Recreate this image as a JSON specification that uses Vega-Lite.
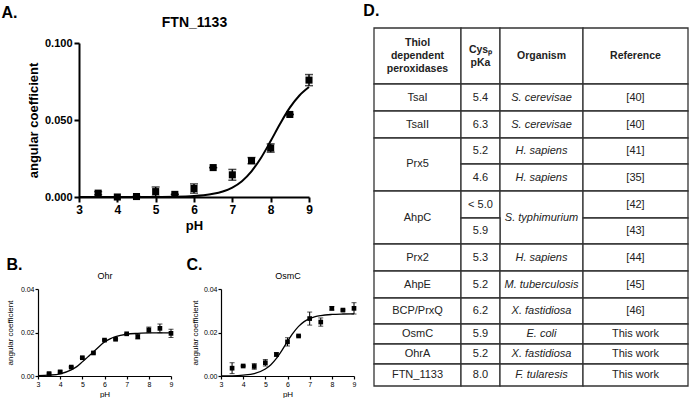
{
  "$schema": "https://vega.github.io/schema/vega-lite/v6.json",
  "padding": {"left": 1, "top": 3, "right": 0, "bottom": 0},
  "background": "white",
  "config": {
    "view": {"stroke": null},
    "font": "Liberation Sans",
    "axis": {"grid": false, "domainColor": "black", "tickColor": "black", "labelColor": "black", "titleColor": "black", "labelFont": "Liberation Sans", "titleFont": "Liberation Sans", "labelFlush": false},
    "title": {"font": "Liberation Sans", "fontWeight": "bold", "fontSize": 16, "anchor": "start", "frame": "bounds", "color": "black"}
  },
  "datasets": {
    "a_pts": [
      {"ph": 3.5, "v": 0.0025, "e": 0.001},
      {"ph": 4, "v": 0.0, "e": 0},
      {"ph": 4.5, "v": 0.0003, "e": 0},
      {"ph": 5, "v": 0.0035, "e": 0.003},
      {"ph": 5.5, "v": 0.0017, "e": 0},
      {"ph": 6, "v": 0.0055, "e": 0.003},
      {"ph": 6.5, "v": 0.0191, "e": 0},
      {"ph": 7, "v": 0.0144, "e": 0.0035},
      {"ph": 7.5, "v": 0.0236, "e": 0.002},
      {"ph": 8, "v": 0.0318, "e": 0.0027},
      {"ph": 8.5, "v": 0.0536, "e": 0},
      {"ph": 9, "v": 0.0759, "e": 0.0036}
    ],
    "a_fit": [
      {"ph": 3, "v": 0}, {"ph": 4, "v": 0.00001}, {"ph": 5, "v": 0.00007}, {"ph": 5.5, "v": 0.0002},
      {"ph": 6, "v": 0.00066}, {"ph": 6.25, "v": 0.00117}, {"ph": 6.5, "v": 0.00205}, {"ph": 6.75, "v": 0.00357},
      {"ph": 7, "v": 0.00614}, {"ph": 7.25, "v": 0.0103}, {"ph": 7.5, "v": 0.0167}, {"ph": 7.75, "v": 0.0255},
      {"ph": 8, "v": 0.0363}, {"ph": 8.25, "v": 0.0477}, {"ph": 8.5, "v": 0.058}, {"ph": 8.75, "v": 0.0659}, {"ph": 9, "v": 0.0714}
    ],
    "b_pts": [
      {"ph": 3.5, "v": 0.0011, "e": 0.0003},
      {"ph": 4, "v": 0.0019, "e": 0.0004},
      {"ph": 4.5, "v": 0.0041, "e": 0.0003},
      {"ph": 5, "v": 0.0084, "e": 0.0003},
      {"ph": 5.5, "v": 0.0106, "e": 0.0004},
      {"ph": 6, "v": 0.0165, "e": 0.0003},
      {"ph": 6.5, "v": 0.0169, "e": 0.0003},
      {"ph": 7, "v": 0.0194, "e": 0.0002},
      {"ph": 7.5, "v": 0.0181, "e": 0.0011},
      {"ph": 8, "v": 0.0212, "e": 0.0013},
      {"ph": 8.5, "v": 0.0219, "e": 0.002},
      {"ph": 9, "v": 0.0196, "e": 0.0019}
    ],
    "b_fit": [
      {"ph": 3, "v": 0.0002}, {"ph": 3.5, "v": 0.0004}, {"ph": 4, "v": 0.001}, {"ph": 4.5, "v": 0.0028},
      {"ph": 4.75, "v": 0.0043}, {"ph": 5, "v": 0.0065}, {"ph": 5.25, "v": 0.0088}, {"ph": 5.5, "v": 0.0111},
      {"ph": 5.75, "v": 0.0135}, {"ph": 6, "v": 0.0156}, {"ph": 6.25, "v": 0.0171}, {"ph": 6.5, "v": 0.0181},
      {"ph": 7, "v": 0.0192}, {"ph": 7.5, "v": 0.0196}, {"ph": 8, "v": 0.0198}, {"ph": 9, "v": 0.0198}
    ],
    "c_pts": [
      {"ph": 3.5, "v": 0.0036, "e": 0.0025},
      {"ph": 4, "v": 0.0046, "e": 0.0003},
      {"ph": 4.5, "v": 0.0044, "e": 0.0013},
      {"ph": 5, "v": 0.0061, "e": 0.0015},
      {"ph": 5.5, "v": 0.0099, "e": 0.0008},
      {"ph": 6, "v": 0.0157, "e": 0.0019},
      {"ph": 6.5, "v": 0.0184, "e": 0.0003},
      {"ph": 7, "v": 0.0264, "e": 0.003},
      {"ph": 7.5, "v": 0.0248, "e": 0.0019},
      {"ph": 8, "v": 0.0311, "e": 0.0008},
      {"ph": 8.5, "v": 0.0303, "e": 0.0004},
      {"ph": 9, "v": 0.0311, "e": 0.0026}
    ],
    "c_fit": [
      {"ph": 3, "v": 0.00003}, {"ph": 3.5, "v": 0.0001}, {"ph": 4, "v": 0.0004}, {"ph": 4.5, "v": 0.0011},
      {"ph": 5, "v": 0.0032}, {"ph": 5.25, "v": 0.0052}, {"ph": 5.5, "v": 0.0081}, {"ph": 5.75, "v": 0.0118},
      {"ph": 6, "v": 0.0159}, {"ph": 6.25, "v": 0.0197}, {"ph": 6.5, "v": 0.0228}, {"ph": 6.75, "v": 0.025},
      {"ph": 7, "v": 0.0264}, {"ph": 7.25, "v": 0.0273}, {"ph": 7.5, "v": 0.0278}, {"ph": 8, "v": 0.0283},
      {"ph": 8.5, "v": 0.0285}, {"ph": 9, "v": 0.0286}
    ],
    "tbl": [
      {"c0": 0, "c1": 1, "r0": 0, "r1": 1, "label": "Thiol\ndependent\nperoxidases"},
      {"c0": 1, "c1": 2, "r0": 0, "r1": 1, "label": "Cysₚ\npKa"},
      {"c0": 2, "c1": 3, "r0": 0, "r1": 1, "label": "Organism"},
      {"c0": 3, "c1": 4, "r0": 0, "r1": 1, "label": "Reference"},
      {"c0": 0, "c1": 1, "r0": 1, "r1": 2, "label": "TsaI"},
      {"c0": 1, "c1": 2, "r0": 1, "r1": 2, "label": "5.4"},
      {"c0": 2, "c1": 3, "r0": 1, "r1": 2, "label": "S. cerevisae"},
      {"c0": 3, "c1": 4, "r0": 1, "r1": 2, "label": "[40]"},
      {"c0": 0, "c1": 1, "r0": 2, "r1": 3, "label": "TsaII"},
      {"c0": 1, "c1": 2, "r0": 2, "r1": 3, "label": "6.3"},
      {"c0": 2, "c1": 3, "r0": 2, "r1": 3, "label": "S. cerevisae"},
      {"c0": 3, "c1": 4, "r0": 2, "r1": 3, "label": "[40]"},
      {"c0": 0, "c1": 1, "r0": 3, "r1": 5, "label": "Prx5"},
      {"c0": 1, "c1": 2, "r0": 3, "r1": 4, "label": "5.2"},
      {"c0": 2, "c1": 3, "r0": 3, "r1": 4, "label": "H. sapiens"},
      {"c0": 3, "c1": 4, "r0": 3, "r1": 4, "label": "[41]"},
      {"c0": 1, "c1": 2, "r0": 4, "r1": 5, "label": "4.6"},
      {"c0": 2, "c1": 3, "r0": 4, "r1": 5, "label": "H. sapiens"},
      {"c0": 3, "c1": 4, "r0": 4, "r1": 5, "label": "[35]"},
      {"c0": 0, "c1": 1, "r0": 5, "r1": 7, "label": "AhpC"},
      {"c0": 1, "c1": 2, "r0": 5, "r1": 6, "label": "< 5.0"},
      {"c0": 2, "c1": 3, "r0": 5, "r1": 7, "label": "S. typhimurium"},
      {"c0": 3, "c1": 4, "r0": 5, "r1": 6, "label": "[42]"},
      {"c0": 1, "c1": 2, "r0": 6, "r1": 7, "label": "5.9"},
      {"c0": 3, "c1": 4, "r0": 6, "r1": 7, "label": "[43]"},
      {"c0": 0, "c1": 1, "r0": 7, "r1": 8, "label": "Prx2"},
      {"c0": 1, "c1": 2, "r0": 7, "r1": 8, "label": "5.3"},
      {"c0": 2, "c1": 3, "r0": 7, "r1": 8, "label": "H. sapiens"},
      {"c0": 3, "c1": 4, "r0": 7, "r1": 8, "label": "[44]"},
      {"c0": 0, "c1": 1, "r0": 8, "r1": 9, "label": "AhpE"},
      {"c0": 1, "c1": 2, "r0": 8, "r1": 9, "label": "5.2"},
      {"c0": 2, "c1": 3, "r0": 8, "r1": 9, "label": "M. tuberculosis"},
      {"c0": 3, "c1": 4, "r0": 8, "r1": 9, "label": "[45]"},
      {"c0": 0, "c1": 1, "r0": 9, "r1": 10, "label": "BCP/PrxQ"},
      {"c0": 1, "c1": 2, "r0": 9, "r1": 10, "label": "6.2"},
      {"c0": 2, "c1": 3, "r0": 9, "r1": 10, "label": "X. fastidiosa"},
      {"c0": 3, "c1": 4, "r0": 9, "r1": 10, "label": "[46]"},
      {"c0": 0, "c1": 1, "r0": 10, "r1": 11, "label": "OsmC"},
      {"c0": 1, "c1": 2, "r0": 10, "r1": 11, "label": "5.9"},
      {"c0": 2, "c1": 3, "r0": 10, "r1": 11, "label": "E. coli"},
      {"c0": 3, "c1": 4, "r0": 10, "r1": 11, "label": "This work"},
      {"c0": 0, "c1": 1, "r0": 11, "r1": 12, "label": "OhrA"},
      {"c0": 1, "c1": 2, "r0": 11, "r1": 12, "label": "5.2"},
      {"c0": 2, "c1": 3, "r0": 11, "r1": 12, "label": "X. fastidiosa"},
      {"c0": 3, "c1": 4, "r0": 11, "r1": 12, "label": "This work"},
      {"c0": 0, "c1": 1, "r0": 12, "r1": 13, "label": "FTN_1133"},
      {"c0": 1, "c1": 2, "r0": 12, "r1": 13, "label": "8.0"},
      {"c0": 2, "c1": 3, "r0": 12, "r1": 13, "label": "F. tularesis"},
      {"c0": 3, "c1": 4, "r0": 12, "r1": 13, "label": "This work"}
    ]
  },
  "spacing": 6,
  "hconcat": [
    {
      "spacing": 25,
      "vconcat": [
        {
          "title": {"text": "A.", "dx": -26, "offset": -6},
          "width": 271,
          "height": 154,
          "resolve": {"axis": {"x": "independent"}},
          "layer": [
            {
              "data": {"name": "a_pts"},
              "mark": {"type": "errorbar", "ticks": true, "color": "black", "thickness": 1.5, "size": 8},
              "encoding": {
                "x": {"field": "ph", "type": "quantitative", "scale": {"domain": [3, 9], "range": [41, 271], "nice": false, "zero": false}, "axis": null},
                "y": {"field": "v", "type": "quantitative", "scale": {"domain": [0, 0.1], "nice": false}, "title": "angular coefficient"},
                "yError": {"field": "e"}
              }
            },
            {
              "data": {"name": "a_pts"},
              "mark": {"type": "square", "size": 50, "color": "black", "opacity": 1},
              "encoding": {
                "x": {"field": "ph", "type": "quantitative", "title": "pH",
                      "axis": {"orient": "bottom", "values": [3, 4, 5, 6, 7, 8, 9], "labelFontSize": 12, "labelFontWeight": "bold", "titleFontSize": 13, "titleFontWeight": "bold", "domainWidth": 2, "tickWidth": 2, "tickSize": 5, "labelPadding": 2, "titlePadding": 4}},
                "y": {"field": "v", "type": "quantitative", "title": "angular coefficient",
                      "axis": {"offset": -41, "values": [0, 0.025, 0.05, 0.075, 0.1], "format": ".3f", "labelFontSize": 11, "labelFontWeight": "bold", "titleFontSize": 13, "titleFontWeight": "bold", "domainWidth": 2, "tickWidth": 2, "tickSize": 5, "labelPadding": 2, "titlePadding": 4}}
              }
            },
            {
              "data": {"name": "a_fit"},
              "mark": {"type": "line", "color": "black", "strokeWidth": 2, "interpolate": "monotone"},
              "encoding": {
                "x": {"field": "ph", "type": "quantitative", "title": "FTN_1133",
                      "axis": {"orient": "top", "labels": false, "ticks": false, "domain": false, "tickSize": 0, "minExtent": 0, "titleFontSize": 14, "titleFontWeight": "bold", "titlePadding": 14}},
                "y": {"field": "v", "type": "quantitative", "title": "angular coefficient"}
              }
            }
          ]
        },
        {
          "spacing": 12,
          "hconcat": [
            {
              "title": {"text": "B.", "dx": 0, "offset": -2},
              "width": 133,
              "height": 87,
              "resolve": {"axis": {"x": "independent"}},
              "layer": [
                {
                  "data": {"name": "b_pts"},
                  "mark": {"type": "errorbar", "ticks": true, "color": "black", "thickness": 1, "size": 5},
                  "encoding": {
                    "x": {"field": "ph", "type": "quantitative", "scale": {"domain": [3, 9], "nice": false, "zero": false}, "axis": null},
                    "y": {"field": "v", "type": "quantitative", "scale": {"domain": [0, 0.04], "nice": false}, "title": "angular coefficient"},
                    "yError": {"field": "e"}
                  }
                },
                {
                  "data": {"name": "b_pts"},
                  "mark": {"type": "square", "size": 22, "color": "black", "opacity": 1},
                  "encoding": {
                    "x": {"field": "ph", "type": "quantitative", "title": "pH",
                          "axis": {"orient": "bottom", "values": [3, 4, 5, 6, 7, 8, 9], "labelFontSize": 7, "titleFontSize": 8, "titleFontWeight": "normal", "domainWidth": 1.2, "tickWidth": 1.2, "tickSize": 3, "labelPadding": 1, "titlePadding": 3}},
                    "y": {"field": "v", "type": "quantitative", "title": "angular coefficient",
                          "axis": {"values": [0, 0.01, 0.02, 0.03, 0.04], "format": ".2f", "labelFontSize": 7, "titleFontSize": 8, "titleFontWeight": "normal", "domainWidth": 1.2, "tickWidth": 1.2, "tickSize": 3, "labelPadding": 1, "titlePadding": 6}}
                  }
                },
                {
                  "data": {"name": "b_fit"},
                  "mark": {"type": "line", "color": "black", "strokeWidth": 1.3, "interpolate": "monotone"},
                  "encoding": {
                    "x": {"field": "ph", "type": "quantitative", "title": "Ohr",
                          "axis": {"orient": "top", "labels": false, "ticks": false, "domain": false, "tickSize": 0, "minExtent": 0, "titleFontSize": 9, "titleFontWeight": "normal", "titlePadding": 9}},
                    "y": {"field": "v", "type": "quantitative", "title": "angular coefficient"}
                  }
                }
              ]
            },
            {
              "title": {"text": "C.", "dx": -5, "offset": -2},
              "width": 133,
              "height": 87,
              "resolve": {"axis": {"x": "independent"}},
              "layer": [
                {
                  "data": {"name": "c_pts"},
                  "mark": {"type": "errorbar", "ticks": true, "color": "black", "thickness": 1, "size": 5},
                  "encoding": {
                    "x": {"field": "ph", "type": "quantitative", "scale": {"domain": [3, 9], "nice": false, "zero": false}, "axis": null},
                    "y": {"field": "v", "type": "quantitative", "scale": {"domain": [0, 0.04], "nice": false}, "title": "angular coefficient"},
                    "yError": {"field": "e"}
                  }
                },
                {
                  "data": {"name": "c_pts"},
                  "mark": {"type": "square", "size": 22, "color": "black", "opacity": 1},
                  "encoding": {
                    "x": {"field": "ph", "type": "quantitative", "title": "pH",
                          "axis": {"orient": "bottom", "values": [3, 4, 5, 6, 7, 8, 9], "labelFontSize": 7, "titleFontSize": 8, "titleFontWeight": "normal", "domainWidth": 1.2, "tickWidth": 1.2, "tickSize": 3, "labelPadding": 1, "titlePadding": 3}},
                    "y": {"field": "v", "type": "quantitative", "title": "angular coefficient",
                          "axis": {"values": [0, 0.01, 0.02, 0.03, 0.04], "format": ".2f", "labelFontSize": 7, "titleFontSize": 8, "titleFontWeight": "normal", "domainWidth": 1.2, "tickWidth": 1.2, "tickSize": 3, "labelPadding": 1, "titlePadding": 4}}
                  }
                },
                {
                  "data": {"name": "c_fit"},
                  "mark": {"type": "line", "color": "black", "strokeWidth": 1.3, "interpolate": "monotone"},
                  "encoding": {
                    "x": {"field": "ph", "type": "quantitative", "title": "OsmC",
                          "axis": {"orient": "top", "labels": false, "ticks": false, "domain": false, "tickSize": 0, "minExtent": 0, "titleFontSize": 9, "titleFontWeight": "normal", "titlePadding": 9}},
                    "y": {"field": "v", "type": "quantitative", "title": "angular coefficient"}
                  }
                }
              ]
            }
          ]
        }
      ]
    },
    {
      "title": {"text": "D.", "dx": -10, "offset": 8},
      "width": 314,
      "height": 343,
      "data": {"name": "tbl"},
      "layer": [
        {
          "mark": {"type": "rect", "fill": "white", "stroke": "#333333", "strokeWidth": 1.3},
          "encoding": {
            "x": {"field": "c0", "type": "quantitative", "scale": {"domain": [0, 1, 2, 3, 4], "range": [0, 87, 126, 209, 314], "nice": false, "zero": false}, "axis": null},
            "x2": {"field": "c1"},
            "y": {"field": "r0", "type": "quantitative", "scale": {"domain": [0, 1, 2, 3, 4, 5, 6, 7, 8, 9, 10, 11, 12, 13], "range": [-15, 41, 68, 95, 121, 148, 175, 201, 228, 255, 281, 301, 321, 343], "nice": false, "zero": false}, "axis": null},
            "y2": {"field": "r1"}
          }
        },
        {
          "transform": [
            {"filter": "datum.r0 > 0 && datum.c0 != 2"},
            {"fold": ["c0", "c1"], "as": ["ck", "cv"]},
            {"fold": ["r0", "r1"], "as": ["rk", "rv"]},
            {"aggregate": [{"op": "mean", "field": "cv", "as": "cx"}, {"op": "mean", "field": "rv", "as": "ry"}], "groupby": ["c0", "r0", "label"]}
          ],
          "mark": {"type": "text", "font": "Liberation Sans", "fontSize": 11, "color": "#222222", "align": "center", "baseline": "middle"},
          "encoding": {
            "x": {"field": "cx", "type": "quantitative"},
            "y": {"field": "ry", "type": "quantitative"},
            "text": {"field": "label"}
          }
        },
        {
          "transform": [
            {"filter": "datum.r0 > 0 && datum.c0 == 2"},
            {"fold": ["c0", "c1"], "as": ["ck", "cv"]},
            {"fold": ["r0", "r1"], "as": ["rk", "rv"]},
            {"aggregate": [{"op": "mean", "field": "cv", "as": "cx"}, {"op": "mean", "field": "rv", "as": "ry"}], "groupby": ["c0", "r0", "label"]}
          ],
          "mark": {"type": "text", "font": "Liberation Sans", "fontSize": 11, "fontStyle": "italic", "color": "#222222", "align": "center", "baseline": "middle"},
          "encoding": {
            "x": {"field": "cx", "type": "quantitative"},
            "y": {"field": "ry", "type": "quantitative"},
            "text": {"field": "label"}
          }
        },
        {
          "transform": [
            {"filter": "datum.r0 == 0 && datum.c0 == 0"},
            {"fold": ["c0", "c1"], "as": ["ck", "cv"]},
            {"fold": ["r0", "r1"], "as": ["rk", "rv"]},
            {"aggregate": [{"op": "mean", "field": "cv", "as": "cx"}, {"op": "mean", "field": "rv", "as": "ry"}], "groupby": ["c0", "r0", "label"]}
          ],
          "mark": {"type": "text", "font": "Liberation Sans", "fontSize": 10.5, "fontWeight": "bold", "color": "#222222", "align": "center", "baseline": "middle", "lineBreak": "\n", "lineHeight": 13, "dy": -13},
          "encoding": {
            "x": {"field": "cx", "type": "quantitative"},
            "y": {"field": "ry", "type": "quantitative"},
            "text": {"field": "label"}
          }
        },
        {
          "transform": [
            {"filter": "datum.r0 == 0 && datum.c0 == 1"},
            {"fold": ["c0", "c1"], "as": ["ck", "cv"]},
            {"fold": ["r0", "r1"], "as": ["rk", "rv"]},
            {"aggregate": [{"op": "mean", "field": "cv", "as": "cx"}, {"op": "mean", "field": "rv", "as": "ry"}], "groupby": ["c0", "r0", "label"]}
          ],
          "mark": {"type": "text", "font": "Liberation Sans", "fontSize": 10.5, "fontWeight": "bold", "color": "#222222", "align": "center", "baseline": "middle", "lineBreak": "\n", "lineHeight": 13, "dy": -6.5},
          "encoding": {
            "x": {"field": "cx", "type": "quantitative"},
            "y": {"field": "ry", "type": "quantitative"},
            "text": {"field": "label"}
          }
        },
        {
          "transform": [
            {"filter": "datum.r0 == 0 && datum.c0 >= 2"},
            {"fold": ["c0", "c1"], "as": ["ck", "cv"]},
            {"fold": ["r0", "r1"], "as": ["rk", "rv"]},
            {"aggregate": [{"op": "mean", "field": "cv", "as": "cx"}, {"op": "mean", "field": "rv", "as": "ry"}], "groupby": ["c0", "r0", "label"]}
          ],
          "mark": {"type": "text", "font": "Liberation Sans", "fontSize": 10.5, "fontWeight": "bold", "color": "#222222", "align": "center", "baseline": "middle"},
          "encoding": {
            "x": {"field": "cx", "type": "quantitative"},
            "y": {"field": "ry", "type": "quantitative"},
            "text": {"field": "label"}
          }
        }
      ]
    }
  ]
}
